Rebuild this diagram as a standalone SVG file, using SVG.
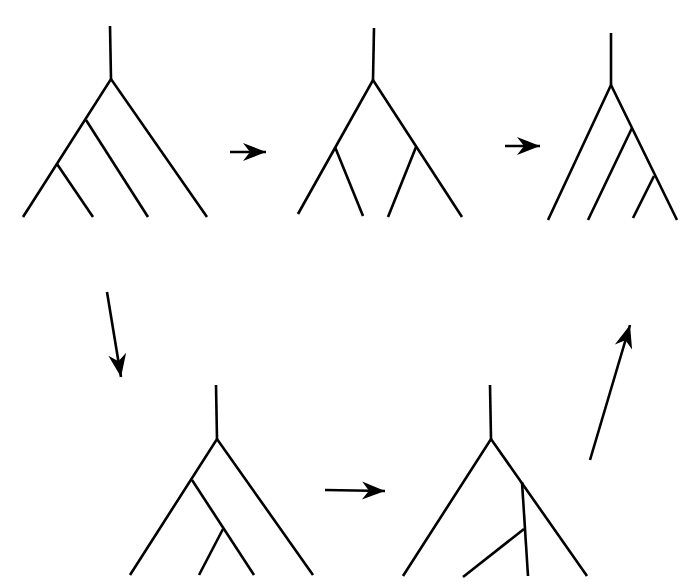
<svg xmlns="http://www.w3.org/2000/svg" width="685" height="585" viewBox="0 0 685 585">
<style>
.t{fill:none;stroke:#000;stroke-width:2.6;stroke-linecap:butt;stroke-linejoin:miter}
.a{fill:none;stroke:#000;stroke-width:2.6;marker-end:url(#ah)}
</style>
<defs>
<marker id="ah" markerUnits="userSpaceOnUse" markerWidth="30" markerHeight="30" viewBox="-26 -12 30 24" refX="0" refY="0" orient="auto">
<path d="M0,0 L-23,-9 L-16,0 L-23,9 Z" fill="#000"/>
</marker>
</defs>
<rect width="685" height="585" fill="#fff"/>
<g id="tree1" class="t">
<path class="t" d="M110,26 L111,79"/>
<path class="t" d="M23,217 L111,79 L207,217"/>
<path class="t" d="M86,120 L148,217"/>
<path class="t" d="M57,164 L93,217"/>
</g>
<g id="tree2">
<path class="t" d="M374,28 L373,80"/>
<path class="t" d="M298,214 L373,80 L462,217"/>
<path class="t" d="M335,147 L363,216"/>
<path class="t" d="M416,147 L388,217"/>
</g>
<g id="tree3">
<path class="t" d="M611,33 L611,85"/>
<path class="t" d="M548,220 L611,85 L677,220"/>
<path class="t" d="M632,128 L588,220"/>
<path class="t" d="M654,176 L633,218"/>
</g>
<g id="tree4">
<path class="t" d="M216,385 L217,439"/>
<path class="t" d="M130,575 L217,439 L313,575"/>
<path class="t" d="M192,480 L254,575"/>
<path class="t" d="M223,529 L199,575"/>
</g>
<g id="tree5">
<path class="t" d="M490,385 L491,439"/>
<path class="t" d="M403,576 L491,439 L587,576"/>
<path class="t" d="M522,482 L528,576"/>
<path class="t" d="M524,529 L463,577"/>
</g>
<g id="connectors">
<path class="a" d="M230,152 L266,152"/>
<path class="a" d="M505,146 L540,146"/>
<path class="a" d="M107,292 L121,377"/>
<path class="a" d="M325,490 L385,491"/>
<path class="a" d="M590,460 L630,325"/>
</g>
</svg>
